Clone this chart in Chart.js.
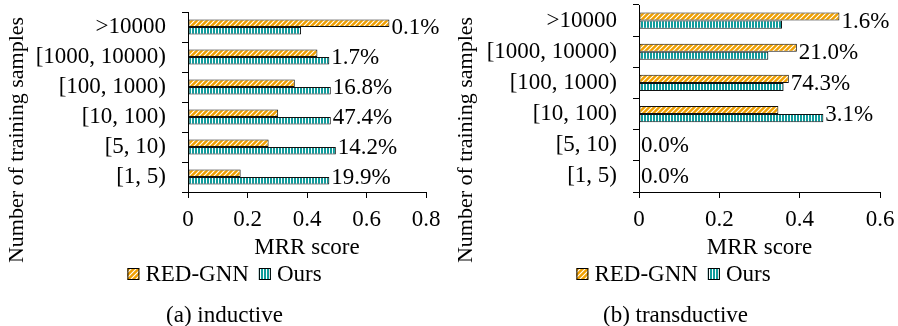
<!DOCTYPE html>
<html>
<head>
<meta charset="utf-8">
<script src="https://cdn.jsdelivr.net/npm/chart.js@4"></script>
<style>
  body { margin: 0; background: #fff; width: 898px; height: 326px; overflow: hidden; }
  .panel { position: absolute; top: 0; width: 449px; height: 326px; }
  .caption { position: absolute; top: 302px; left: 0; width: 449px; text-align: center;
             font: 23px 'Liberation Serif', 'Times New Roman', serif; line-height: 26px; color: #000; }
</style>
</head>
<body>
<div class="panel" style="left:0">
  <canvas id="inductive" width="449" height="326"></canvas>
  <div class="caption">(a) inductive</div>
</div>
<div class="panel" style="left:449px">
  <canvas id="transductive" width="449" height="326"></canvas>
  <div class="caption" style="left:2px">(b) transductive</div>
</div>
<script>
// categories (top to bottom)
const categories = ['>10000', '[1000, 10000)', '[100, 1000)', '[10, 100)', '[5, 10)', '[1, 5)'];
const seriesNames = ['RED-GNN', 'Ours'];

// (a) inductive
const inductiveRed  = [0.677, 0.435, 0.359, 0.303, 0.271, 0.177];
const inductiveOurs = [0.380, 0.475, 0.480, 0.480, 0.497, 0.475];
const inductivePct  = ['0.1%', '1.7%', '16.8%', '47.4%', '14.2%', '19.9%'];

// (b) transductive
const transRed  = [0.499, 0.393, 0.373, 0.347, 0, 0];
const transOurs = [0.356, 0.322, 0.360, 0.459, 0, 0];
const transPct  = ['1.6%', '21.0%', '74.3%', '3.1%', '0.0%', '0.0%'];

const FONT = "'Liberation Serif', 'Times New Roman', serif";
Chart.defaults.font.family = FONT;
Chart.defaults.font.size = 23;
Chart.defaults.color = '#000';

// hatched fills
function stripePattern() {
  const c = document.createElement('canvas');
  c.width = 5; c.height = 5;
  const g = c.getContext('2d');
  g.fillStyle = '#f0a000';
  g.fillRect(0, 0, 5, 5);
  g.strokeStyle = '#ffffff';
  g.lineWidth = 1.1;
  g.beginPath();
  g.moveTo(-1, 6); g.lineTo(6, -1);
  g.moveTo(-1, 1); g.lineTo(1, -1);
  g.moveTo(4, 6); g.lineTo(6, 4);
  g.stroke();
  return g.createPattern(c, 'repeat');
}
function verticalPattern() {
  const c = document.createElement('canvas');
  c.width = 3; c.height = 3;
  const g = c.getContext('2d');
  g.fillStyle = '#ffffff';
  g.fillRect(0, 0, 3, 3);
  g.fillStyle = '#109c9c';
  g.fillRect(0, 0, 2, 3);
  return g.createPattern(c, 'repeat');
}
const redFill = stripePattern();
const oursFill = verticalPattern();

// labels, y title and legend drawn on top
const extras = {
  id: 'extras',
  afterDraw(chart, args, opts) {
    const ctx = chart.ctx;
    const yScale = chart.scales.y;
    ctx.save();
    ctx.fillStyle = '#000';
    ctx.font = '23px ' + FONT;

    // percentage labels after the longer bar
    ctx.textAlign = 'left';
    ctx.textBaseline = 'middle';
    opts.pct.forEach((txt, i) => {
      const ends = chart.data.datasets.map((d, di) => chart.getDatasetMeta(di).data[i].x);
      const x = Math.max(...ends) + 2;
      ctx.fillText(txt, x, yScale.getPixelForValue(i) + 1);
    });

    // y axis title
    ctx.save();
    ctx.font = '22px ' + FONT;
    ctx.translate(17, 140);
    ctx.rotate(-Math.PI / 2);
    ctx.textAlign = 'center';
    ctx.fillText('Number of training samples', 0, 0);
    ctx.restore();

    // legend
    const box = 12, gap = 6, itemGap = 10;
    const fills = [redFill, oursFill];
    const widths = seriesNames.map(n => ctx.measureText(n).width);
    let total = 0;
    widths.forEach((w, i) => { total += box + gap + w + (i ? 0 : itemGap); });
    let x = (chart.width - total) / 2;
    const cy = 274;
    seriesNames.forEach((n, i) => {
      ctx.fillStyle = fills[i];
      ctx.fillRect(x, cy - box / 2, box, box);
      ctx.strokeStyle = '#000';
      ctx.lineWidth = 1;
      ctx.strokeRect(x + 0.5, cy - box / 2 + 0.5, box - 1, box - 1);
      ctx.fillStyle = '#000';
      ctx.textAlign = 'left';
      ctx.fillText(n, x + box + gap, cy + 1);
      x += box + gap + widths[i] + itemGap;
    });
    ctx.restore();
  }
};

function makeChart(id, red, ours, pct, cfg) {
  return new Chart(document.getElementById(id), {
    type: 'bar',
    data: {
      labels: categories,
      datasets: [
        { label: seriesNames[0], data: red, backgroundColor: redFill },
        { label: seriesNames[1], data: ours, backgroundColor: oursFill }
      ]
    },
    options: {
      indexAxis: 'y',
      responsive: false,
      animation: false,
      devicePixelRatio: 1,
      layout: { padding: { top: cfg.top, right: cfg.padRight, left: 0, bottom: 0 } },
      datasets: {
        bar: {
          categoryPercentage: cfg.catPct,
          barPercentage: 1,
          borderColor: '#111',
          borderWidth: 1,
          borderSkipped: false
        }
      },
      plugins: {
        legend: { display: false },
        tooltip: { enabled: false },
        extras: { pct: pct }
      },
      scales: {
        x: {
          min: 0,
          max: cfg.max,
          ticks: { stepSize: 0.2, padding: 8 },
          grid: { drawOnChartArea: false, tickLength: 6, color: '#000' },
          border: { color: '#000', width: 1 },
          title: { display: true, text: 'MRR score', padding: { top: 0, bottom: 64 } },
          afterFit(s) { s.height = 134; s.paddingLeft = 0; s.paddingRight = 0; }
        },
        y: {
          ticks: { padding: 16, autoSkip: false },
          grid: { drawOnChartArea: false, tickLength: 6, color: '#000', offset: true },
          border: { color: '#000', width: 1 },
          afterFit(s) { s.width = cfg.yWidth; s.paddingTop = 0; s.paddingBottom = 0; }
        }
      }
    },
    plugins: [extras]
  });
}

makeChart('inductive', inductiveRed, inductiveOurs, inductivePct,
  { max: 0.8, top: 12, yWidth: 188, padRight: 23, catPct: 0.5 });
makeChart('transductive', transRed, transOurs, transPct,
  { max: 0.6, top: 5, yWidth: 190, padRight: 18, catPct: 0.52 });
</script>
</body>
</html>
